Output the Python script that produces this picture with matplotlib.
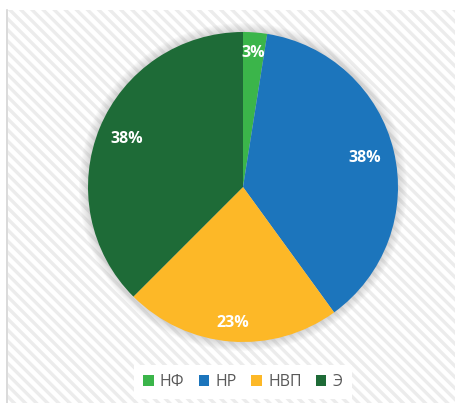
import math
import matplotlib
matplotlib.use("Agg")
import matplotlib.pyplot as plt
from matplotlib.patches import Rectangle, Circle

categories = ["НФ", "НР", "НВП", "Э"]
values = [1, 15, 9, 15]
colors = ["#3BB54A", "#1C75BC", "#FDB827", "#1E6B37"]
label_dist = [0.87, 0.81, 0.88, 0.81]

plt.rcParams['font.family'] = ['Open Sans', 'DejaVu Sans']
plt.rcParams['hatch.linewidth'] = 2.4

W, H = 456, 403
fig = plt.figure(figsize=(W / 100, H / 100), dpi=100)
fig.patch.set_facecolor('white')
ax = fig.add_axes([0, 0, 1, 1])

cx, cy, R = 243, H - 187, 155

wedges, _ = ax.pie(values, colors=colors, startangle=90, counterclock=False,
                   center=(cx, cy), radius=R, frame=True,
                   wedgeprops=dict(linewidth=0, zorder=2))
ax.set_xlim(0, W)
ax.set_ylim(0, H)
ax.set_aspect('equal')
ax.axis('off')

# chart area background with diagonal stripes
ax.add_patch(Rectangle((8, 0), W - 8, H - 10, facecolor='white', edgecolor='#ececec',
                       linewidth=0, hatch='\\\\\\', zorder=0))
ax.plot([7.5, 7.5], [0, H - 10], color='#d4d4d4', lw=1.2, zorder=1)

# soft shadow
for i in range(9):
    ax.add_patch(Circle((cx, cy), R + 9 - i, facecolor='#909090', edgecolor='none',
                        alpha=0.04, zorder=1))

total = sum(values)
for w, v, d in zip(wedges, values, label_dist):
    ang = math.radians((w.theta1 + w.theta2) / 2)
    x = cx + d * R * math.cos(ang)
    y = cy + d * R * math.sin(ang)
    pct = math.floor(100 * v / total + 0.5)
    ax.text(x, y, f"{pct}%", color='white', fontsize=11.5, fontweight='bold',
            ha='center', va='center', zorder=3)

leg = ax.legend(wedges, categories, loc='center', bbox_to_anchor=(243 / W, 1 - 382 / H),
                bbox_transform=fig.transFigure, ncol=4, frameon=True, fancybox=False,
                fontsize=11.5, handlelength=0.65, handleheight=0.65, handletextpad=0.4,
                columnspacing=0.9, borderpad=0.55, borderaxespad=0, labelcolor='#595959')
leg.get_frame().set_facecolor('white')
leg.get_frame().set_edgecolor('none')
leg.get_frame().set_alpha(1)

fig.savefig('out.png', dpi=100, facecolor='white')
